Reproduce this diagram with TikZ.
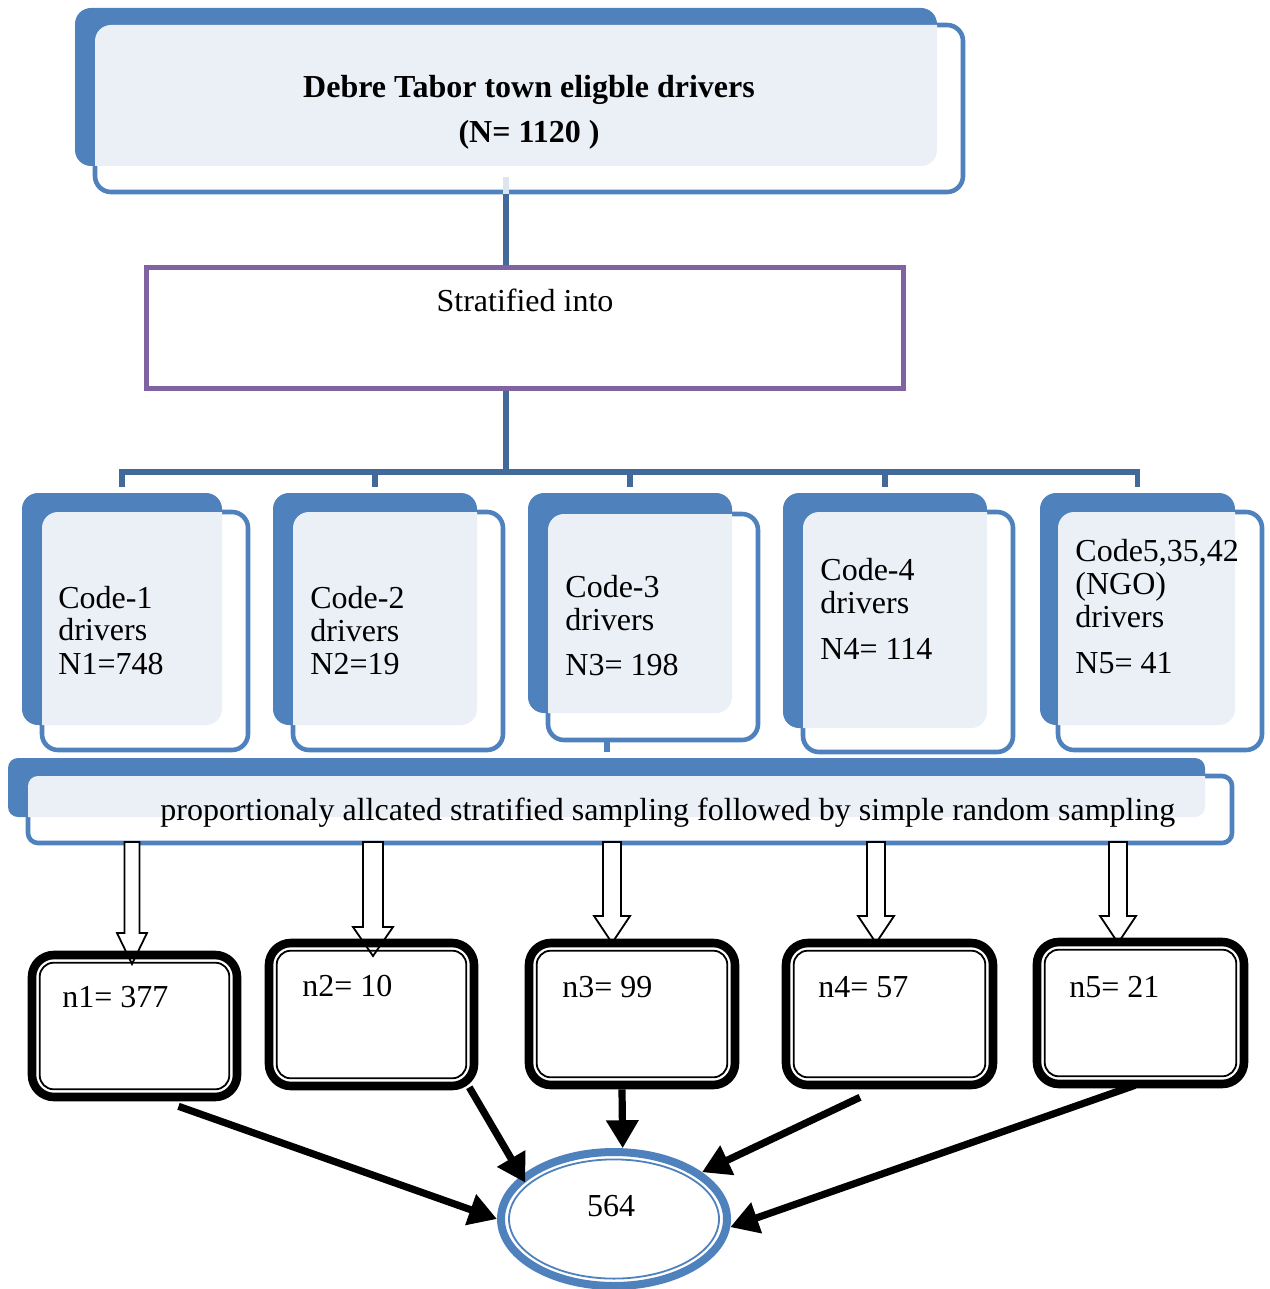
\documentclass[tikz,border=0pt]{standalone}
\usepackage{fontspec}
\setmainfont{Liberation Serif}
\usetikzlibrary{fit,shapes.geometric,arrows.meta}
\definecolor{sblue}{HTML}{4F81BD}
\definecolor{slight}{HTML}{EBF0F7}
\definecolor{sconn}{HTML}{41699A}
\definecolor{spurple}{HTML}{8064A2}
\def\lbr{8pt}
\newcommand\layeredbox[9]{%
  \node[backbox, fit={(#2,#3)(#4,#5)}] (#1b) {};
  \node[frontbox, fit={(#6,#7)(#8,#9)}] (#1) {};
  \begin{scope}
    \clip[rounded corners=\lbr] (#2,#3) rectangle (#4,#5);
    \fill[slight, rounded corners=\lbr] (#6,#7) rectangle (#8,#9);
  \end{scope}}
\newcommand\nbox[5]{%
  \node[nboxo, fit={(#2,#3)(#4,#5)}] (#1) {};
  \draw[nboxi] ([shift={(6pt,6pt)}]#1.south west) rectangle ([shift={(-6pt,-6pt)}]#1.north east);}
\newcommand\blockarrow[6]{%
  \draw[blockarr] (#1-#5,#2) -- (#1-#5,#3) -- (#1-#6,#3) -- (#1,#4) -- (#1+#6,#3) -- (#1+#5,#3) -- (#1+#5,#2) -- cycle;}
\begin{document}
\begin{tikzpicture}[x=0.5pt,y=-0.5pt,
  backbox/.style={fill=sblue, draw=none, rounded corners=\lbr, inner sep=0pt},
  frontbox/.style={draw=sblue, line width=2.3pt, fill=white, rounded corners=\lbr, inner sep=0pt},
  stratbox/.style={draw=spurple, line width=2.5pt, inner sep=0pt},
  conn/.style={draw=sconn, line width=2.6pt},
  txt/.style={font=\fontsize{16}{19}\selectfont, inner sep=0pt, anchor=base west},
  txtb/.style={font=\bfseries\fontsize{16}{19}\selectfont, inner sep=0pt, anchor=base},
  nboxo/.style={draw=black, line width=4.3pt, rounded corners=11pt, inner sep=0pt},
  nboxi/.style={draw=black, line width=0.9pt, rounded corners=7pt},
  blockarr/.style={draw=black, fill=white, line width=0.9pt, line join=miter},
  barrow/.style={draw=black, line width=3.6pt, -{Triangle[length=14pt,width=15.5pt]}}]
\useasboundingbox (0,0) rectangle (1269,1289);
\coordinate (cx) at (506,0);
\coordinate (hub) at (506,472);
\coordinate (bx) at (607,0);

% top box
\layeredbox{top}{75}{8}{937}{166}{95}{25}{963}{192}
\node[txtb] (t1) at (529,98) {Debre Tabor town eligble drivers};
\node[txtb] (t2) at (529,143) {(N= 1120 )};
\draw[slight!90!sblue, line width=2.6pt] (top.south -| cx) -- ++(0,-17);

% stratified
\node[stratbox, fit={(146,267)(903,388)}] (strat) {};
\node[txt, anchor=base] (st) at (525,311) {Stratified into};
\draw[conn] (top.south -| cx) -- (strat.north -| cx);
\draw[conn] (strat.south -| cx) -- (hub);

% code boxes
\layeredbox{c1}{22}{493}{222}{725}{42}{512}{248}{750}
\layeredbox{c2}{273}{493}{477}{725}{293}{512}{503}{750}
\layeredbox{c3}{528}{493}{732}{713}{548}{514}{758}{740}
\layeredbox{c4}{783}{493}{987}{728}{803}{512}{1013}{752}
\layeredbox{c5}{1040}{493}{1235}{725}{1058}{512}{1262}{750}

\draw[conn, line join=miter] ([yshift=3pt]c1b.north) -- (c1b.north |- hub) -- (c5b.north |- hub) -- ([yshift=3pt]c5b.north);
\draw[conn] (c2b.north |- hub) -- ([yshift=3pt]c2b.north);
\draw[conn] (c3b.north |- hub) -- ([yshift=3pt]c3b.north);
\draw[conn] (c4b.north |- hub) -- ([yshift=3pt]c4b.north);

\node[txt] (c1a) at (58,608) {Code-1};
\node[txt] (c1d) at (58,640) {drivers};
\node[txt] (c1n) at (58,674) {N1=748};
\node[txt] (c2a) at (310,608) {Code-2};
\node[txt] (c2d) at (310,641) {drivers};
\node[txt] (c2n) at (310,674) {N2=19};
\node[txt] (c3a) at (565,597) {Code-3};
\node[txt] (c3d) at (565,630) {drivers};
\node[txt] (c3n) at (565,675) {N3= 198};
\node[txt] (c4a) at (820,580) {Code-4};
\node[txt] (c4d) at (820,613) {drivers};
\node[txt] (c4n) at (820,659) {N4= 114};
\node[txt] (c5a) at (1075,561) {Code5,35,42};
\node[txt] (c5g) at (1075,594) {(NGO)};
\node[txt] (c5d) at (1075,627) {drivers};
\node[txt] (c5n) at (1075,673) {N5= 41};

% sampling bar
\def\lbr{5pt}
\layeredbox{bar}{8}{758}{1205}{817}{28}{776}{1232}{843}
\def\lbr{8pt}
\draw[conn, draw=sblue] (c3.south -| bx) -- ([yshift=3pt]barb.north -| bx);
\node[txt] (bt) at (160,820) {proportionaly allcated stratified sampling followed by simple random sampling};

% block arrows
\blockarrow{132}{842}{933}{964}{7.5}{15}
\blockarrow{373}{842}{927}{956}{10}{20}
\blockarrow{612}{842}{916}{943}{9}{18}
\blockarrow{876}{842}{916}{943}{9}{18}
\blockarrow{1118}{842}{916}{943}{9}{18}

% sample boxes
\nbox{n1}{32}{955}{237}{1097}
\nbox{n2}{269}{943}{474}{1086}
\nbox{n3}{529}{943}{735}{1085}
\nbox{n4}{786}{943}{993}{1085}
\nbox{n5}{1037}{942}{1244}{1084}
\node[txt] (n1t) at (62,1007) {n1= 377};
\node[txt] (n2t) at (302,996) {n2= 10};
\node[txt] (n3t) at (562,997) {n3= 99};
\node[txt] (n4t) at (818,997) {n4= 57};
\node[txt] (n5t) at (1069,997) {n5= 21};

% total
\node[ellipse, draw=sblue, line width=4pt, minimum width=113pt, minimum height=67pt, inner sep=0pt] (e) at (614,1219) {};
\draw[sblue, line width=0.9pt] (e.center) ellipse [x radius=52.5pt, y radius=29.8pt];
\node[txt, anchor=base] (et) at (611,1216) {564};

\draw[barrow] ([xshift=22pt,yshift=-2.5pt]n1.south) -- (e.180);
\draw[barrow, shorten >=-4pt] ([xshift=-4.5pt,yshift=1.5pt]n2.south east) -- (e.155);
\draw[barrow] ([xshift=-5pt]n3.south) -- (e.83);
\draw[barrow] ([xshift=-14.75pt,yshift=-4pt]n4.south) -- (e.28);
\draw[barrow] ([xshift=-2.75pt,yshift=1.5pt]n5.south) -- (e.-4);
\end{tikzpicture}
\end{document}
